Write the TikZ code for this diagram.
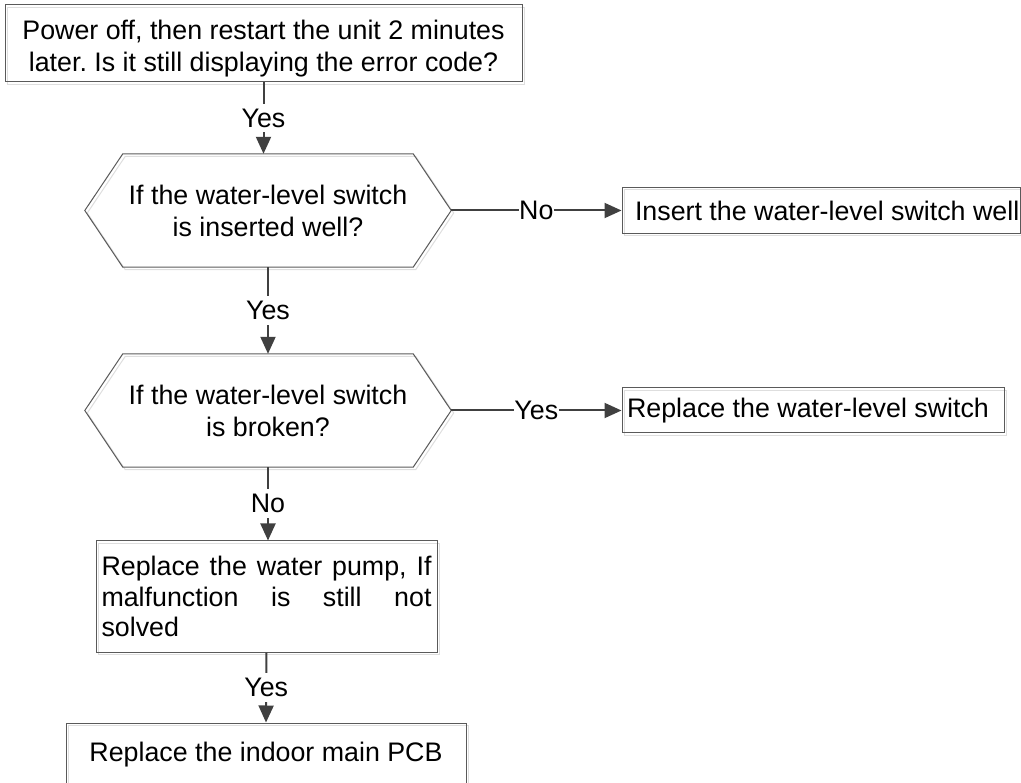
\documentclass[tikz,border=0pt]{standalone}
\usepackage{fontspec}
\setmainfont{Liberation Sans}
\usetikzlibrary{arrows.meta,shadows}
\definecolor{lnc}{HTML}{404040}
\definecolor{bdc}{HTML}{5A5A5A}
\frenchspacing
\begin{document}
\begin{tikzpicture}[x=1pt,y=-1pt,
  txt/.style={font=\fontsize{26.8}{32}\selectfont, text=black},
  ghost/.style={drop shadow={shadow xshift=2.5pt,shadow yshift=-2.5pt,fill=none,draw=black!13,line width=1pt,opacity=1}},
  box/.style={txt,draw=bdc,line width=1pt,rectangle,inner sep=0pt,ghost},
  hexnode/.style={txt,minimum width=366pt,minimum height=113pt,inner sep=0pt,align=center},
  hexline/.style={draw=bdc,line width=1pt,ghost},
  conn/.style={draw=lnc,line width=2pt},
  arr/.style={conn,-{Triangle[width=15pt,length=17pt]}},
  lab/.style={txt,fill=white,inner xsep=0.5pt,inner ysep=5pt}
]
\path[use as bounding box,clip] (0,0) rectangle (1021,783);

\node[box,minimum width=517pt,minimum height=77pt,align=center,text height=61pt] (b0) at (263.5,43.5)
  {Power off, then restart the unit 2 minutes\\later. Is it still displaying the error code?};

\node[hexnode] (h1) at (268,210.5) {If the water-level switch\\is inserted well?};
\draw[hexline] (h1.west) -- ([xshift=38pt]h1.north west) -- ([xshift=-38pt]h1.north east)
  -- (h1.east) -- ([xshift=-38pt]h1.south east) -- ([xshift=38pt]h1.south west) -- cycle;

\node[hexnode] (h2) at (268,410.5) {If the water-level switch\\is broken?};
\draw[hexline] (h2.west) -- ([xshift=38pt]h2.north west) -- ([xshift=-38pt]h2.north east)
  -- (h2.east) -- ([xshift=-38pt]h2.south east) -- ([xshift=38pt]h2.south west) -- cycle;

\node[box,minimum width=398pt,minimum height=46pt] (b1) at (821,210.5)
  {\makebox[398pt][l]{\hspace*{13pt}Insert the water-level switch well}};

\node[box,minimum width=382pt,minimum height=45pt] (b2) at (813,410.5)
  {\makebox[382pt][l]{\hspace*{5pt}Replace the water-level switch}};

\node[box,text width=330pt,inner xsep=5.5pt,minimum height=111pt,align=left,
  font=\fontsize{26.8}{30.5}\selectfont] (b3) at (266.5,596.5)
  {\makebox[330pt][l]{Replace\hfill the\hfill water\hfill pump,\hfill If}\\\makebox[330pt][l]{malfunction\hfill is\hfill still\hfill not}\\solved};

\node[box,minimum width=400pt,minimum height=64pt] (b4) at (266,755) {Replace the indoor main PCB};

\draw[arr] (b0.south) -- node[lab]{Yes} (b0.south |- h1.north);
\draw[arr] (h1.south) -- node[lab]{Yes} (h2.north);
\draw[arr] (h2.south) -- node[lab]{No} (h2.south |- b3.north);
\draw[arr] (b3.south) -- node[lab]{Yes} (b4.north);
\draw[arr] (h1.east) -- node[lab]{No} (b1.west);
\draw[arr] (h2.east) -- node[lab]{Yes} (b2.west);
\end{tikzpicture}
\end{document}
